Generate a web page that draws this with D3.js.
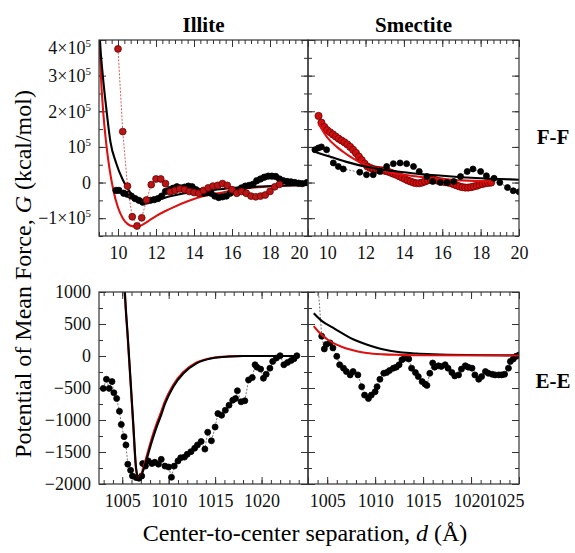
<!DOCTYPE html>
<html>
<head>
<meta charset="utf-8">
<script src="https://cdn.jsdelivr.net/npm/d3@7"></script>
<style>
  body { margin: 0; background: #fff; }
  svg text { font-family: "Liberation Serif", "DejaVu Serif", serif !important; }
</style>
</head>
<body>
<svg id="chart" width="575" height="553"></svg>
<script>
// ---- data (top row in units of 10^5 kcal/mol, bottom row in kcal/mol) ----

// Illite F-F
const illiteFFSimBlack = [[9.9,-0.22],[10.05,-0.22],[10.3,-0.3],[10.5,-0.33],[10.7,-0.38],[10.9,-0.45],[11.1,-0.5],[11.3,-0.55],
  [11.5,-0.52],[11.7,-0.5],[11.9,-0.48],[12.1,-0.45],[12.3,-0.38],[12.5,-0.25],[12.7,-0.2],[12.9,-0.16],[13.1,-0.12],
  [13.3,-0.15],[13.5,-0.13],[13.7,-0.1],[13.9,-0.12],[14.1,-0.2],[14.3,-0.25],[14.5,-0.3],[14.7,-0.28],[14.9,-0.3],
  [15.1,-0.38],[15.3,-0.42],[15.5,-0.4],[15.7,-0.38],[15.9,-0.3],[16.1,-0.25],[16.3,-0.22],[16.5,-0.15],[16.7,-0.1],
  [16.9,-0.08],[17.1,-0.05],[17.3,0.05],[17.5,0.1],[17.7,0.15],[17.9,0.18],[18.1,0.18],[18.3,0.17],[18.5,0.1],
  [18.7,0.05],[18.9,0.03],[19.1,0.02],[19.3,0.0],[19.5,-0.02],[19.7,-0.03],[19.95,0.0]];
const illiteFFSimRed = [[10.0,3.75],[10.25,1.43],[10.5,-0.1],[10.75,-0.96],[11.0,-1.22],[11.25,-0.99],[11.5,-0.49],
  [11.75,-0.06],[12.0,0.1],[12.25,0.1],[12.5,-0.03],[12.75,-0.26],[13.0,-0.22],[13.25,-0.18],[13.5,-0.2],[13.75,-0.25],
  [14.0,-0.28],[14.25,-0.3],[14.5,-0.22],[14.75,-0.15],[15.0,-0.1],[15.25,-0.08],[15.5,-0.03],[15.75,-0.08],[16.0,-0.2],
  [16.25,-0.3],[16.5,-0.25],[16.75,-0.3],[17.0,-0.38],[17.25,-0.4],[17.5,-0.38],[17.75,-0.35],[18.0,-0.25],[18.25,-0.12],
  [18.5,-0.05]];
const illiteFFFitBlack = [[9.0,4.6],[9.05,4.0],[9.2,3.0],[9.38,2.1],[9.6,1.15],[9.9,0.55],[10.25,0.08],[10.65,-0.28],
  [11.0,-0.48],[11.3,-0.56],[11.6,-0.55],[12.0,-0.5],[12.8,-0.38],[13.5,-0.3],[14.5,-0.24],[15.5,-0.18],[16.3,-0.14],
  [17.5,-0.11],[18.5,-0.09],[20.0,-0.07]];
const illiteFFFitRed = [[9.0,4.5],[9.03,4.0],[9.1,3.0],[9.22,2.0],[9.4,1.0],[9.55,0.4],[9.75,-0.2],[10.0,-0.7],
  [10.25,-1.0],[10.5,-1.16],[10.8,-1.23],[11.0,-1.24],[11.3,-1.18],[11.6,-1.08],[12.0,-0.94],[12.5,-0.8],[12.85,-0.71],
  [13.7,-0.52],[14.5,-0.38],[15.5,-0.28],[16.3,-0.2],[17.2,-0.14],[18.3,-0.1],[20.0,-0.07]];

// Smectite F-F
const smectFFSimBlack = [[9.36,0.92],[9.54,0.97],[9.7,1.0],[9.97,0.92],[10.32,0.55],[10.58,0.45],[10.84,0.38],
  [11.7,0.29],[12.05,0.22],[12.4,0.22],[12.75,0.31],[13.1,0.45],[13.45,0.53],[13.8,0.55],[14.14,0.53],[14.5,0.45],
  [14.8,0.31],[15.2,0.17],[15.5,0.03],[15.9,0.0],[16.25,0.0],[16.6,0.03],[16.95,0.17],[17.3,0.31],[17.6,0.38],
  [18.0,0.31],[18.3,0.19],[18.7,0.12],[19.0,0.0],[19.4,-0.14],[19.7,-0.23],[20.0,-0.26]];
const smectFFSimRed = [[9.55,1.87],[9.7,1.68],[9.85,1.56],[10.0,1.47],[10.15,1.41],[10.3,1.35],[10.45,1.29],[10.6,1.23],
  [10.75,1.18],[10.9,1.13],[11.05,1.07],[11.2,1.0],[11.35,0.92],[11.5,0.83],[11.65,0.73],[11.8,0.63],[11.95,0.53],
  [12.1,0.45],[12.25,0.41],[12.4,0.38],[12.55,0.36],[12.7,0.35],[12.85,0.34],[13.0,0.33],[13.15,0.31],[13.3,0.28],
  [13.45,0.25],[13.6,0.22],[13.75,0.18],[13.9,0.14],[14.05,0.1],[14.2,0.06],[14.35,0.03],[14.5,0.0],[14.65,-0.02],
  [14.8,-0.02],[14.95,0.0],[15.1,0.03],[15.25,0.06],[15.4,0.08],[15.55,0.08],[15.7,0.06],[15.85,0.04],[16.0,0.03],
  [16.15,0.01],[16.3,0.0],[16.45,-0.02],[16.6,-0.05],[16.75,-0.08],[16.9,-0.11],[17.05,-0.13],[17.2,-0.14],
  [17.35,-0.14],[17.5,-0.13],[17.65,-0.11],[17.8,-0.09],[17.95,-0.06],[18.1,-0.04],[18.25,-0.02],[18.4,-0.01],[18.55,0.0]];
const smectFFFitBlack = [[9.3,0.88],[9.7,0.8],[10.3,0.7],[11.0,0.58],[12.0,0.45],[13.0,0.35],[14.0,0.29],[15.0,0.23],
  [16.0,0.19],[17.0,0.15],[18.0,0.12],[19.0,0.1],[20.0,0.08]];
const smectFFFitRed = [[9.55,1.65],[10.0,1.27],[10.5,1.0],[11.0,0.8],[11.5,0.63],[12.0,0.49],[12.5,0.39],[13.0,0.32],
  [14.0,0.22],[15.0,0.15],[16.0,0.1],[17.0,0.06],[18.55,0.03]];

// Illite E-E
const illiteEESimBlack = [[1002.96,-506],[1003.3,-364],[1003.6,-506],[1003.9,-400],[1004.1,-574],[1004.4,-664],
  [1004.7,-864],[1004.9,-1070],[1005.2,-1260],[1005.4,-1390],[1005.6,-1690],[1005.9,-1785],[1006.1,-1875],
  [1006.5,-1900],[1006.8,-1910],[1007.1,-1875],[1007.2,-1680],[1007.5,-1720],[1007.8,-1640],[1008.2,-1680],
  [1008.5,-1660],[1008.9,-1690],[1009.2,-1615],[1009.6,-1720],[1010.0,-1735],[1010.3,-1895],[1010.6,-1720],
  [1011.0,-1640],[1011.3,-1590],[1011.7,-1580],[1012.0,-1535],[1012.4,-1495],[1012.8,-1440],[1013.1,-1390],
  [1013.5,-1335],[1013.9,-1455],[1014.2,-1190],[1014.6,-1325],[1015.0,-1110],[1015.3,-900],[1015.7,-926],
  [1016.1,-847],[1016.5,-768],[1016.9,-690],[1017.2,-664],[1017.4,-543],[1017.8,-716],[1018.2,-700],[1018.6,-374],
  [1019.0,-337],[1019.3,-137],[1019.5,-174],[1019.9,-205],[1020.2,-348],[1020.5,-285],[1020.9,-190],[1021.2,-85],
  [1021.6,-32],[1022.0,4],[1022.4,-137],[1022.8,-100],[1023.2,-69],[1023.5,-42],[1023.8,4]];
const illiteEEFitBlack = [[1005.2,1300],[1005.29,1000],[1005.6,300],[1005.9,-380],[1006.2,-1080],[1006.5,-1760],
  [1006.75,-1910],[1007.0,-1880],[1007.5,-1680],[1007.8,-1530],[1008.2,-1330],[1008.7,-1110],[1009.2,-920],
  [1009.6,-750],[1010.5,-480],[1011.6,-270],[1013.0,-115],[1014.7,-35],[1016.5,-8],[1018.0,0],[1023.8,0]];
const illiteEEFitRed = [[1005.18,1300],[1005.27,1000],[1005.58,300],[1005.88,-380],[1006.18,-1080],[1006.48,-1760],
  [1006.72,-1905],[1006.97,-1870],[1007.45,-1660],[1007.75,-1505],[1008.15,-1300],[1008.65,-1080],[1009.15,-890],
  [1009.55,-725],[1010.45,-460],[1011.55,-255],[1012.95,-105],[1014.65,-30],[1016.5,-6],[1018.0,0],[1023.8,0]];

// Smectite E-E
const smectEESimBlack = [[1004.05,1100],[1004.43,310],[1004.7,110],[1004.9,180],[1005.3,205],[1005.6,126],[1006.0,-5],
  [1006.3,-137],[1006.7,-190],[1007.0,-243],[1007.4,-295],[1007.7,-243],[1008.2,-295],[1008.6,-480],[1008.9,-611],
  [1009.3,-664],[1009.6,-611],[1010.0,-559],[1010.2,-480],[1010.5,-364],[1010.9,-270],[1011.2,-258],[1011.5,-227],
  [1011.9,-190],[1012.2,-174],[1012.5,-137],[1012.8,-58],[1013.1,-32],[1013.5,-47],[1013.8,-190],[1014.2,-258],
  [1014.5,-322],[1014.9,-400],[1015.2,-438],[1015.4,-459],[1015.7,-270],[1016.0,-110],[1016.2,-174],[1016.6,-153],
  [1016.9,-163],[1017.3,-137],[1017.6,-190],[1018.0,-258],[1018.3,-311],[1018.7,-295],[1019.0,-205],[1019.4,-153],
  [1019.7,-174],[1020.1,-190],[1020.4,-295],[1020.8,-364],[1021.1,-322],[1021.5,-243],[1021.8,-270],[1022.2,-285],
  [1022.5,-295],[1022.9,-295],[1023.2,-295],[1023.5,-285],[1023.9,-190],[1024.1,-85],[1024.4,-47],[1024.7,-5],[1025.0,15]];
const smectEEFitBlack = [[1003.6,668],[1004.5,540],[1005.6,442],[1006.5,360],[1007.4,284],[1008.2,230],[1009.1,179],
  [1010.0,135],[1010.9,100],[1012.6,58],[1014.3,38],[1016.1,26],[1019.6,15],[1025.0,10]];
const smectEEFitRed = [[1003.6,468],[1004.1,380],[1004.6,310],[1005.1,250],[1005.6,205],[1006.5,145],[1007.4,100],
  [1008.2,70],[1009.1,47],[1010.9,26],[1012.5,18],[1014.4,12],[1025.0,8]];

// ticks
const ffXMajor = [10, 12, 14, 16, 18, 20];
const ffYMajor = [-1, 0, 1, 2, 3, 4];
const eeXMajor = [1005, 1010, 1015, 1020, 1025];
const eeYMajor = [-2000, -1500, -1000, -500, 0, 500, 1000];
const colTitles = ["Illite", "Smectite"];
const rowTitles = ["F-F", "E-E"];

// ---- layout ----
const svg = d3.select("#chart");
const cols = [{x0: 99, x1: 308}, {x0: 308, x1: 519}];
const rows = [{y0: 40, y1: 236}, {y0: 292, y1: 484}];
const RED = "#dd1111", DOTRED = "#b81616";

const panels = [
  {c: 0, r: 0, xd: [9, 20], yd: [-1.5, 4], xLab: ffXMajor, sims: [
      {data: illiteFFSimBlack, fill: "#000", stroke: "#000", line: "#444", r: 3.2},
      {data: illiteFFSimRed, fill: DOTRED, stroke: "#6a0000", line: "#c33", r: 3.4}],
    fits: [{data: illiteFFFitRed, color: RED}, {data: illiteFFFitBlack, color: "#000"}]},
  {c: 1, r: 0, xd: [9, 20], yd: [-1.5, 4], xLab: ffXMajor, sims: [
      {data: smectFFSimBlack, fill: "#000", stroke: "#000", line: "#555", r: 3.0},
      {data: smectFFSimRed, fill: "#cc1010", stroke: "#700", line: null, r: 3.6}],
    fits: [{data: smectFFFitRed, color: RED}, {data: smectFFFitBlack, color: "#000"}]},
  {c: 0, r: 1, xd: [1002.5, 1025], yd: [-2000, 1000], xLab: [1005, 1010, 1015, 1020], sims: [
      {data: illiteEESimBlack, fill: "#000", stroke: "#000", line: "#555", r: 3.0}],
    fits: [{data: illiteEEFitRed, color: RED}, {data: illiteEEFitBlack, color: "#000"}]},
  {c: 1, r: 1, xd: [1003, 1025], yd: [-2000, 1000], xLab: eeXMajor, sims: [
      {data: smectEESimBlack, fill: "#000", stroke: "#000", line: "#555", r: 3.0}],
    fits: [{data: smectEEFitBlack, color: "#000"}, {data: smectEEFitRed, color: RED}]}
];

function range(a, b, step) {
  const out = [];
  for (let v = a; v <= b + 1e-9; v += step) out.push(+v.toFixed(6));
  return out;
}

function supLabel(sel) {
  sel.each(function(d) {
    const t = d3.select(this).text(null);
    if (d === 0) { t.text("0"); return; }
    const base = d === 1 ? "10" : (d < 0 ? "\u2212" : "") + Math.abs(d) + "\u00d710";
    t.append("tspan").text(base);
    t.append("tspan").attr("dy", -7).attr("font-size", 11).text("5");
    if (d === 4) t.attr("dy", "0.75em");
  });
}

panels.forEach((p, i) => {
  const {x0, x1} = cols[p.c];
  const {y0, y1} = rows[p.r];
  const x = d3.scaleLinear().domain(p.xd).range([x0, x1]);
  const y = d3.scaleLinear().domain(p.yd).range([y1, y0]);
  const isFF = p.r === 0;

  svg.append("clipPath").attr("id", "clip" + i)
    .append("rect").attr("x", x0).attr("y", y0).attr("width", x1 - x0).attr("height", y1 - y0);

  const xMaj = isFF ? ffXMajor : eeXMajor;
  const xMin = isFF ? range(9, 20, 1 / 3) : range(1003, 1025, 1);
  const yMaj = isFF ? ffYMajor : eeYMajor;
  const yMin = isFF ? range(-1.5, 4, 0.5) : range(-2000, 1000, 250);

  const axes = svg.append("g").attr("color", "#333");
  const mk = (axis, tx, ty, vals, size, fmt) => {
    const g = axes.append("g").attr("transform", `translate(${tx},${ty})`)
      .call(axis.tickValues(vals).tickSize(-size).tickSizeOuter(0).tickFormat(fmt));
    g.select(".domain").remove();
    g.selectAll(".tick line").attr("stroke-width", 1);
    return g;
  };
  // minor ticks
  mk(d3.axisBottom(x), 0, y1, xMin, 4, "");
  mk(d3.axisTop(x), 0, y0, xMin, 4, "");
  mk(d3.axisLeft(y), x0, 0, yMin, 4, "");
  mk(d3.axisRight(y), x1, 0, yMin, 4, "");
  // major ticks
  mk(d3.axisBottom(x), 0, y1, xMaj, 7, "");
  const xb = mk(d3.axisBottom(x).tickPadding(10), 0, y1, p.xLab, 0, d3.format("d"));
  mk(d3.axisTop(x), 0, y0, xMaj, 7, "");
  const yl = mk(d3.axisLeft(y).tickPadding(8), x0, 0, yMaj, 7, p.c === 0 ? d3.format("d") : "");
  mk(d3.axisRight(y), x1, 0, yMaj, 7, "");

  xb.selectAll("text").attr("font-size", 18).attr("fill", "#111");
  yl.selectAll("text").attr("font-size", 18).attr("fill", "#111");
  if (p.c === 0 && isFF) {
    yl.selectAll(".tick text").call(supLabel);
    xb.selectAll(".tick text").filter(d => d === 20).attr("dx", -9);
  }
  if (p.c === 0 && !isFF) {
    yl.selectAll(".tick text").text(d => d < 0 ? "\u2212" + Math.abs(d) : d);
  }
  if (p.c === 1 && !isFF) {
    xb.selectAll(".tick text").filter(d => d === 1025).attr("dx", -13);
  }

  const plot = svg.append("g").attr("clip-path", `url(#clip${i})`);
  const line = d3.line().x(d => x(d[0])).y(d => y(d[1]));
  const smooth = d3.line().x(d => x(d[0])).y(d => y(d[1])).curve(d3.curveMonotoneX);

  const drawFit = f => plot.append("path").datum(f.data).attr("d", smooth)
      .attr("fill", "none").attr("stroke", f.color).attr("stroke-width", 2.1);
  const drawSim = s => {
    if (s.line) {
      plot.append("path").datum(s.data).attr("d", line)
        .attr("fill", "none").attr("stroke", s.line).attr("stroke-width", 0.8)
        .attr("stroke-dasharray", "2,1.5");
    }
    plot.append("g").selectAll("circle").data(s.data).join("circle")
      .attr("cx", d => x(d[0])).attr("cy", d => y(d[1])).attr("r", s.r)
      .attr("fill", s.fill).attr("stroke", s.stroke).attr("stroke-width", 0.8);
  };

  if (i === 0) { p.fits.forEach(drawFit); p.sims.forEach(drawSim); }
  else if (i === 1) {
    // red band, red fit, black points, black fit
    drawSim(p.sims[1]); drawFit(p.fits[0]); drawSim(p.sims[0]); drawFit(p.fits[1]);
  } else { p.sims.forEach(drawSim); p.fits.forEach(drawFit); }

  svg.append("rect").attr("x", x0).attr("y", y0).attr("width", x1 - x0).attr("height", y1 - y0)
    .attr("fill", "none").attr("stroke", "#333").attr("stroke-width", 1.2);
});

// titles
cols.forEach((c, j) => {
  svg.append("text").attr("x", (c.x0 + c.x1) / 2).attr("y", 32).attr("text-anchor", "middle")
    .attr("font-size", 21).attr("font-weight", "bold").text(colTitles[j]);
});
rows.forEach((r, j) => {
  svg.append("text").attr("x", 553).attr("y", j === 0 ? 144 : 388).attr("text-anchor", "middle")
    .attr("font-size", 21).attr("font-weight", "bold").text(rowTitles[j]);
});

// axis titles
const xt = svg.append("text").attr("x", 305).attr("y", 541).attr("text-anchor", "middle").attr("font-size", 24);
xt.append("tspan").text("Center-to-center separation, ");
xt.append("tspan").attr("font-style", "italic").text("d");
xt.append("tspan").text(" (\u00c5)");

const yt = svg.append("text").attr("transform", "translate(31,274) rotate(-90)")
  .attr("text-anchor", "middle").attr("font-size", 24);
yt.append("tspan").text("Potential of Mean Force, ");
yt.append("tspan").attr("font-style", "italic").text("G");
yt.append("tspan").text(" (kcal/mol)");
</script>
</body>
</html>
